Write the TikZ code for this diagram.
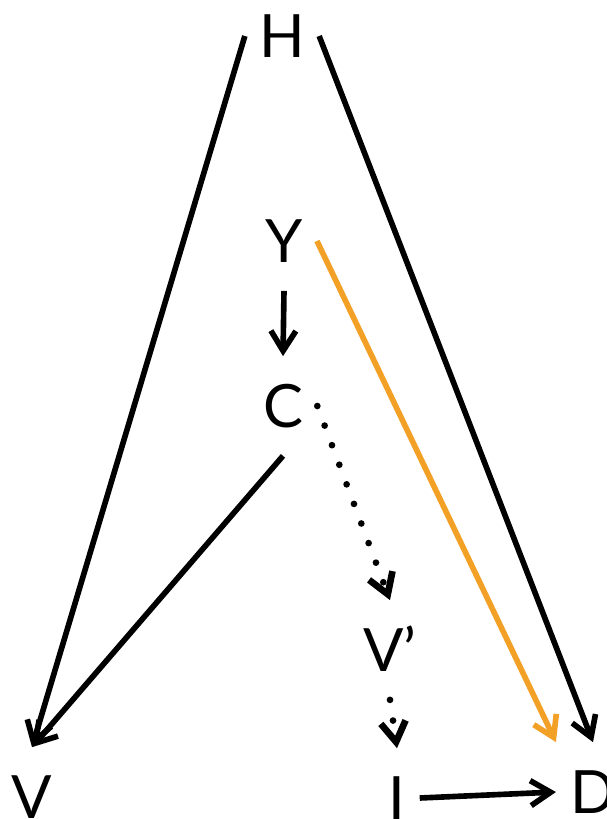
\documentclass[tikz,border=0pt]{standalone}
\usepackage{fontspec}
\setmainfont{Lato}
\usetikzlibrary{arrows.meta}
\definecolor{orng}{RGB}{243,161,38}
\tikzstyle{vr}=[inner xsep=0.28cm, inner ysep=0.56cm, text height=24.5pt, text depth=0pt, font=\fontsize{34}{40}\selectfont]
\tikzstyle{arr}=[line width=3.2pt, -{Straight Barb[length=0.4cm,width=0.5cm]}]
\tikzstyle{dotarr}=[arr, line width=3.8pt, line cap=round, dash pattern=on 0pt off 11.9pt]

\begin{document}
\begin{tikzpicture}[x=0.02cm, y=-0.02cm]
\useasboundingbox (0,0) rectangle (606,819);
\node at (282,36)[vr](H){H};
\node at (284,241)[vr](Y){Y};
\node at (283,406)[vr](C){C};
\node at (390,650)[vr](Vp){V’};
\node at (32,797)[vr](V){V};
\node at (397,798)[vr](I){I};
\node at (593,792)[vr](D){D};
\draw[arr] (H.west)--(V.north);
\draw[arr] (H.east)--(D.north);
\draw[arr] (Y.south)--(C.north);
\draw[arr, orng] (Y.east)--(D.north west);
\draw[arr] (C.south)--(V.north);
%\draw[arr] (C)--(Vp);
\draw[dotarr] (C.east)--(Vp.north);
\draw[dotarr] (Vp.south)--(I.north);
\draw[arr] (I.east)--(D.west);
\end{tikzpicture}
\end{document}
